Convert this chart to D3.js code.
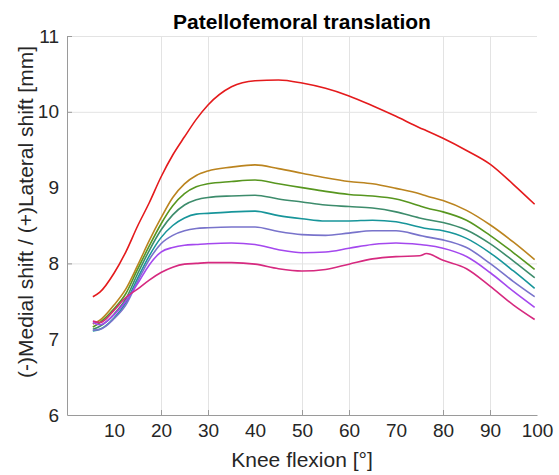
<!DOCTYPE html>
<html>
<head>
<meta charset="utf-8">
<script src="https://d3js.org/d3.v7.min.js"></script>
<style>
	body { margin: 0; background: #fff; }
	svg text { font-family: 'Liberation Sans', Arial, sans-serif; fill: #262626; }
	.grid line { stroke: #e3e3e3; stroke-width: 1; }
	.grid path { display: none; }
	.axis path, .axis line { stroke: #9a9a9a; }
	.line { fill: none; stroke-width: 1.6; stroke-linejoin: round; }
</style>
</head>
<body>
<svg id="chart" width="559" height="475"></svg>
<script>
'use strict';

var flexion = [5.5, 7, 10, 12.5, 15, 17.5, 20, 22.5, 25, 27.5, 30, 35, 40, 45, 50, 55, 60, 65, 70, 75, 76.5, 80, 85, 90, 95, 99.5];

// patellar shift [mm], one array per curve (top to bottom)
var redShift      = [7.56, 7.62, 7.87, 8.15, 8.49, 8.80, 9.14, 9.43, 9.67, 9.90, 10.09, 10.33, 10.41, 10.42, 10.38, 10.31, 10.21, 10.08, 9.94, 9.79, 9.75, 9.65, 9.49, 9.31, 9.04, 8.78];
var orangeShift   = [7.20, 7.25, 7.45, 7.66, 7.97, 8.30, 8.60, 8.87, 9.05, 9.16, 9.22, 9.27, 9.30, 9.25, 9.19, 9.13, 9.08, 9.05, 8.99, 8.92, 8.89, 8.83, 8.70, 8.51, 8.28, 8.05];
var greenShift    = [7.16, 7.22, 7.40, 7.60, 7.92, 8.23, 8.52, 8.76, 8.92, 9.01, 9.05, 9.08, 9.10, 9.05, 9.00, 8.95, 8.91, 8.89, 8.85, 8.76, 8.73, 8.68, 8.57, 8.37, 8.14, 7.92];
var seagreenShift = [7.13, 7.17, 7.33, 7.53, 7.86, 8.17, 8.44, 8.64, 8.77, 8.84, 8.87, 8.89, 8.90, 8.85, 8.81, 8.77, 8.75, 8.73, 8.68, 8.60, 8.58, 8.54, 8.44, 8.26, 8.03, 7.81];
var tealShift     = [7.11, 7.13, 7.28, 7.48, 7.80, 8.10, 8.34, 8.50, 8.60, 8.65, 8.66, 8.68, 8.69, 8.63, 8.59, 8.56, 8.56, 8.57, 8.55, 8.48, 8.46, 8.43, 8.33, 8.14, 7.90, 7.67];
var slateShift    = [7.12, 7.13, 7.27, 7.45, 7.76, 8.05, 8.26, 8.37, 8.43, 8.46, 8.47, 8.48, 8.48, 8.42, 8.38, 8.37, 8.40, 8.43, 8.43, 8.37, 8.35, 8.31, 8.21, 8.00, 7.76, 7.56];
var purpleShift   = [7.22, 7.19, 7.32, 7.50, 7.73, 7.98, 8.15, 8.21, 8.24, 8.25, 8.26, 8.27, 8.25, 8.18, 8.14, 8.15, 8.20, 8.25, 8.27, 8.25, 8.24, 8.20, 8.09, 7.88, 7.63, 7.42];
var magentaShift  = [7.24, 7.22, 7.38, 7.55, 7.66, 7.78, 7.88, 7.95, 7.99, 8.00, 8.01, 8.01, 7.99, 7.93, 7.90, 7.92, 7.99, 8.06, 8.09, 8.10, 8.13, 8.04, 7.93, 7.70, 7.45, 7.26];

var curveColors = ['#e41a1c', '#bb841f', '#57961f', '#3d8c6c', '#17959a', '#7873cb', '#a448ee', '#d6297f'];

// axis ticks, grid lines only where the figure shows them
var xTicks = [10, 20, 30, 40, 50, 60, 70, 80, 90, 100];
var yTicks = [6, 7, 8, 9, 10, 11];
var xGrid = [20, 30, 50, 60, 80, 90];
var yGrid = [8, 10, 11];

var titleText = 'Patellofemoral translation';
var xLabelText = 'Knee flexion [\u00b0]';
var yLabelText = '(-)Medial shift / (+)Lateral shift [mm]';

var allSeries = [redShift, orangeShift, greenShift, seagreenShift, tealShift, slateShift, purpleShift, magentaShift];

var margin = { top: 36, right: 22, bottom: 60, left: 67 },
	width = 559 - margin.left - margin.right,
	height = 475 - margin.top - margin.bottom;

var x = d3.scaleLinear().domain([0, 100]).range([0, width]);
var y = d3.scaleLinear().domain([6, 11]).range([height, 0]);

var svg = d3.select('#chart');
var g = svg.append('g')
	.attr('transform', 'translate(' + margin.left + ',' + margin.top + ')');

// grid
g.append('g')
	.attr('class', 'grid')
	.attr('transform', 'translate(0,' + height + ')')
	.call(d3.axisBottom(x).tickValues(xGrid).tickSize(-height).tickFormat(''));
g.append('g')
	.attr('class', 'grid')
	.call(d3.axisLeft(y).tickValues(yGrid).tickSize(-width).tickFormat(''));

// axes, ticks point inwards like matlab
var axisX = g.append('g')
	.attr('class', 'x axis')
	.attr('transform', 'translate(0,' + height + ')')
	.call(d3.axisBottom(x).tickValues(xTicks).tickFormat(d3.format('d'))
		.tickSizeInner(0).tickSizeOuter(0).tickPadding(9));
axisX.selectAll('text').style('font-size', '19px');
axisX.selectAll('.tick').filter(function (d) { return xGrid.indexOf(d) >= 0; })
	.append('line').attr('y2', -5);

var axisY = g.append('g')
	.attr('class', 'y axis')
	.call(d3.axisLeft(y).tickValues(yTicks).tickFormat(d3.format('d'))
		.tickSizeInner(0).tickSizeOuter(0).tickPadding(8));
axisY.selectAll('text').style('font-size', '19px');
axisY.selectAll('.tick').filter(function (d) { return yGrid.indexOf(d) >= 0; })
	.append('line').attr('x2', 5);

// curves
var line = d3.line()
	.curve(d3.curveMonotoneX)
	.x(function (d, i) { return x(flexion[i]); })
	.y(function (d) { return y(d); });

g.append('g').selectAll('path')
	.data(allSeries)
	.join('path')
	.attr('class', 'line')
	.attr('stroke', function (d, i) { return curveColors[i]; })
	.attr('d', line);

// title and labels
svg.append('text')
	.attr('x', margin.left + width / 2)
	.attr('y', 29)
	.attr('text-anchor', 'middle')
	.style('font-size', '21px')
	.style('font-weight', 'bold')
	.style('fill', '#000')
	.text(titleText);

svg.append('text')
	.attr('x', margin.left + width / 2)
	.attr('y', 467)
	.attr('text-anchor', 'middle')
	.style('font-size', '21px')
	.text(xLabelText);

svg.append('text')
	.attr('transform', 'translate(33,' + 212 + ') rotate(-90)')
	.attr('text-anchor', 'middle')
	.style('font-size', '21px')
	.text(yLabelText);
</script>
</body>
</html>
